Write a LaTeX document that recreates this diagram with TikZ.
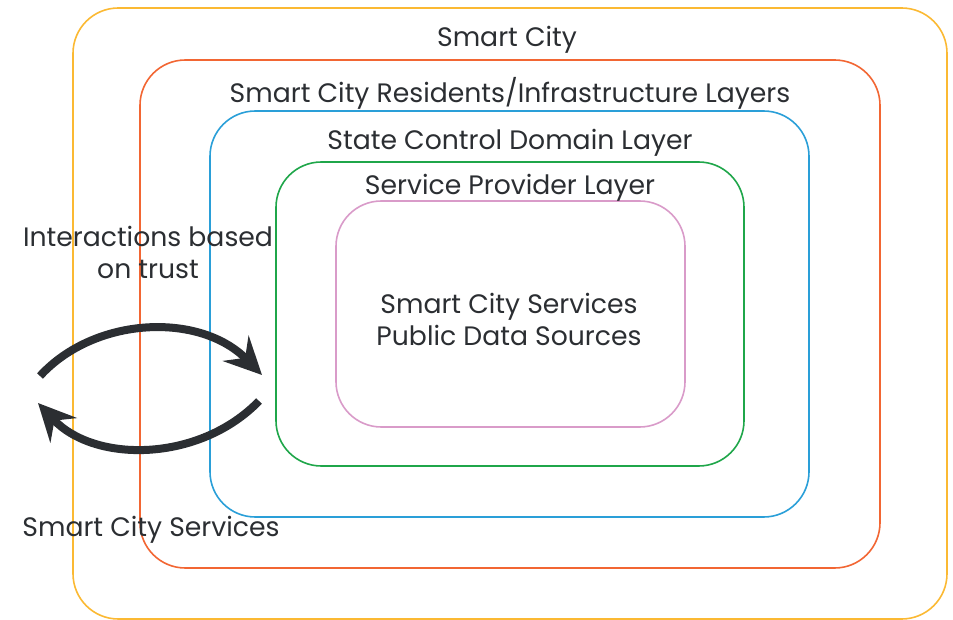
\documentclass[tikz,border=0pt]{standalone}
\usepackage{fontspec}
\setmainfont{Poppins}
\usetikzlibrary{arrows.meta,positioning}
\definecolor{cityyellow}{HTML}{FBB933}
\definecolor{resorange}{HTML}{F26633}
\definecolor{stateblue}{HTML}{2A9FD8}
\definecolor{provgreen}{HTML}{1FA64A}
\definecolor{servpink}{HTML}{D99BC9}
\definecolor{textgray}{HTML}{2B2E32}
\tikzset{
  layer/.style={line width=1.2pt, rounded corners=34pt},
  lbl/.style={text=textgray, inner sep=0pt, yshift=-2pt, font=\fontsize{20}{24}\selectfont},
  trust/.style={textgray, line width=6pt,
    -{Stealth[length=28pt,width=27pt,inset=10pt]}}
}
\begin{document}
\begin{tikzpicture}[x=0.75pt,y=-0.75pt]
  \useasboundingbox (0,0) rectangle (953,620);
  % nested layers
  \draw[layer,cityyellow] (73,8) rectangle (947,619);
  \draw[layer,resorange] (140,60) rectangle (880,568);
  \draw[layer,stateblue] (210,111) rectangle (809,517);
  \draw[layer,provgreen] (276,162) rectangle (744,466);
  \draw[layer,servpink] (336,201) rectangle (685,427);
  % labels
  \node[lbl] (city) at (507,37) {Smart City};
  \node[lbl] (residents) at (510,91) {Smart City Residents/Infrastructure Layers};
  \node[lbl] (state) at (510,140) {State Control Domain Layer};
  \node[lbl] (provider) at (510,185) {Service Provider Layer};
  \node[lbl, align=center] (services) at (509,317) {Smart City Services\\Public Data Sources};
  \node[lbl, align=center] (trusttext) at (148,250) {Interactions based\\on trust};
  \node[lbl] (outside) at (151,527) {Smart City Services};
  % interaction arrows
  \coordinate (topstart) at (40,376);
  \coordinate (topend) at (262,375);
  \coordinate (botstart) at (259,401);
  \coordinate (botend) at (38,403);
  \draw[trust] (topstart) .. controls (95,316) and (200,312) .. (topend);
  \draw[trust] (botstart) .. controls (200,462) and (95,464) .. (botend);
\end{tikzpicture}
\end{document}
